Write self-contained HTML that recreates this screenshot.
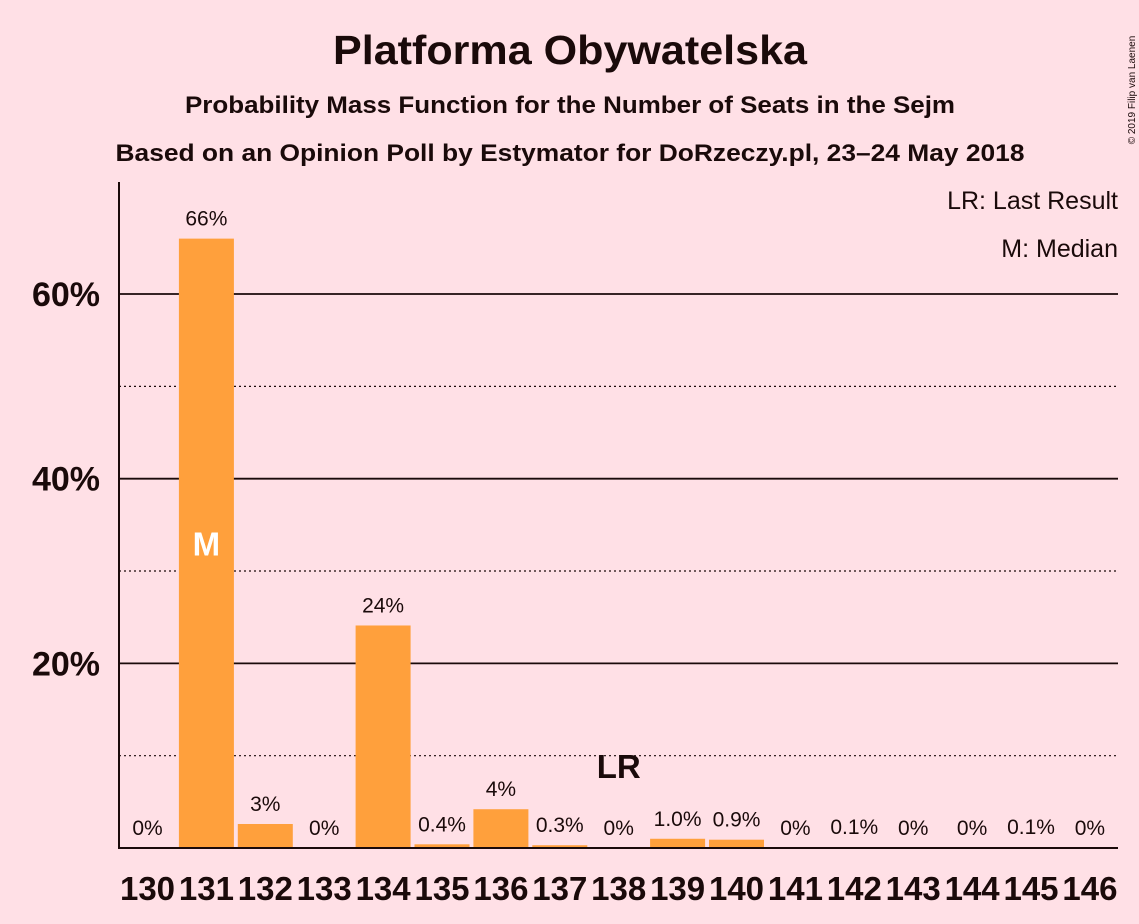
<!DOCTYPE html>
<html><head><meta charset="utf-8"><style>
body{margin:0;background:#ffe0e6;}
svg{display:block;font-family:"Liberation Sans",sans-serif;}
</style></head><body>
<svg id="chart" width="1139" height="924">
<rect width="1139" height="924" fill="#ffe0e6"/>
<text x="570" y="64" text-anchor="middle" font-size="41" font-weight="bold" fill="#1a0a0a" textLength="474" lengthAdjust="spacingAndGlyphs">Platforma Obywatelska</text>
<text x="570" y="113" text-anchor="middle" font-size="24" font-weight="bold" fill="#1a0a0a" textLength="770" lengthAdjust="spacingAndGlyphs">Probability Mass Function for the Number of Seats in the Sejm</text>
<text x="570" y="161" text-anchor="middle" font-size="24" font-weight="bold" fill="#1a0a0a" textLength="909" lengthAdjust="spacingAndGlyphs">Based on an Opinion Poll by Estymator for DoRzeczy.pl, 23–24 May 2018</text>
<text x="1118" y="209" text-anchor="end" font-size="25" fill="#1a0a0a">LR: Last Result</text>
<text x="1118" y="257" text-anchor="end" font-size="25" fill="#1a0a0a">M: Median</text>
<text transform="translate(1135,90) rotate(-90)" text-anchor="middle" font-size="10" fill="#1a0a0a">© 2019 Filip van Laenen</text>
<g id="grid"></g><g id="bars"></g><g id="labels"></g>
<line x1="119" y1="182" x2="119" y2="849" stroke="#1a0a0a" stroke-width="2"/>
<line x1="118" y1="848" x2="1118" y2="848" stroke="#1a0a0a" stroke-width="2"/>
</svg>
<script>
const categories=[130,131,132,133,134,135,136,137,138,139,140,141,142,143,144,145,146];
const values=[0,66.0,2.6,0,24.1,0.4,4.2,0.3,0,1.0,0.9,0,0.1,0,0,0.1,0];
const valueLabels=["0%","66%","3%","0%","24%","0.4%","4%","0.3%","0%","1.0%","0.9%","0%","0.1%","0%","0%","0.1%","0%"];
const yTicks=[20,40,60];
const yDotted=[10,30,50];
const medianCat=131, lastResultCat=138;
const NS="http://www.w3.org/2000/svg";
const y=v=>848-v*9.233;
const x=c=>147.5+(c-130)*58.9;
function mk(tag,attrs,parent,text){const e=document.createElementNS(NS,tag);for(const k in attrs)e.setAttribute(k,attrs[k]);if(text!==undefined)e.textContent=text;document.getElementById(parent).appendChild(e);return e;}
yDotted.forEach(t=>{const l=mk('line',{x1:119,x2:1118,y1:y(t),y2:y(t),stroke:'#1a0a0a','stroke-width':1.2,'stroke-dasharray':'2,3'},'grid');

});
yTicks.forEach(t=>{const l=mk('line',{x1:119,x2:1118,y1:y(t),y2:y(t),stroke:'#1a0a0a','stroke-width':1.8},'grid');


const tx=mk('text',{x:100,y:y(t)+12,'text-anchor':'end','font-size':34,'font-weight':'bold',fill:'#1a0a0a'},'labels',t+'%');

});
categories.forEach((c,i)=>{const v=values[i];
if(v>0){const r=mk('rect',{x:x(c)-27.5,y:y(v),width:55,height:848-y(v),fill:'#ffa03c'},'bars');

}
const lt=mk('text',{x:x(c),y:Math.min(y(v),848)-13,'text-anchor':'middle','font-size':21,fill:'#1a0a0a'},'labels',valueLabels[i]);


const xt=mk('text',{x:x(c),y:900,'text-anchor':'middle','font-size':33,'font-weight':'bold',fill:'#1a0a0a'},'labels',String(c));


if(c===medianCat){const m=mk('text',{x:x(c),y:y(v/2)+12,'text-anchor':'middle','font-size':33,'font-weight':'bold',fill:'#fff'},'labels','M');

}
if(c===lastResultCat){const m=mk('text',{x:x(c),y:778,'text-anchor':'middle','font-size':33,'font-weight':'bold',fill:'#1a0a0a'},'labels','LR');

}
});
</script>
</body></html>
